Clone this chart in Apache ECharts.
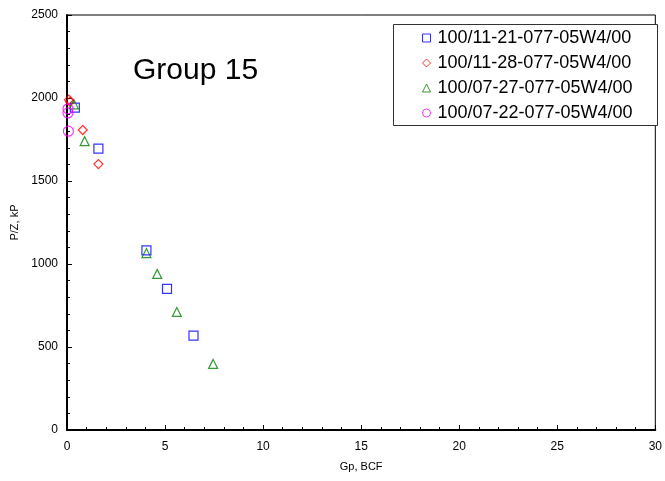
<!DOCTYPE html>
<html><head><meta charset="utf-8">
<script src="https://cdn.jsdelivr.net/npm/echarts@6/dist/echarts.min.js"></script>
<style>html,body{margin:0;padding:0;background:#fff}#c{width:665px;height:481px}</style>
</head><body><div id="c"></div>
<script>
const seriesNames = ['100/11-21-077-05W4/00','100/11-28-077-05W4/00','100/07-27-077-05W4/00','100/07-22-077-05W4/00'];
const s1121 = [[0.4,1942],[1.6,1695],[4.05,1082],[5.1,850],[6.45,568]];
const s1128 = [[0.1,1990],[0.15,1978],[0.8,1807],[1.6,1602]];
const s0727 = [[0.35,1962],[0.9,1740],[4.05,1066],[4.6,940],[5.6,711],[7.45,398]];
const s0722 = [[0.05,1935],[0.05,1910],[0.07,1800]];
const colors = ['#0000ff','#ff0000','#008000','#ff00ff'];
const symbols = ['rect','diamond','triangle','circle'];
const sizes = [9,9,9,10];
const datas = [s1121,s1128,s0727,s0722];
const FF = '"Liberation Sans", Arial, sans-serif';

const chart = echarts.init(document.getElementById('c'));
chart.setOption({
  animation:false,
  grid:{left:67,right:7,top:15,bottom:51,show:true,borderColor:'#000',borderWidth:1},
  graphic:[
    {type:'rect',left:393,top:24,shape:{width:264,height:101},style:{fill:'#fff',stroke:'#333',lineWidth:1},z:50},
    {type:'text',left:133,top:56,style:{text:'Group 15',font:'30px '+FF,fill:'#000'}}
  ],
  legend:{
    orient:'vertical',left:422,top:29,itemGap:7,itemWidth:8,itemHeight:8,itemSymbolKeepAspect:true,z:60,padding:0,
    itemStyle:{borderWidth:1},
    textStyle:{fontFamily:FF,fontSize:18,lineHeight:18,color:'#000',padding:[0,0,0,2]},
    data:seriesNames
  },
  xAxis:{
    type:'value',min:0,max:30,interval:5,
    name:'Gp, BCF',nameLocation:'middle',nameGap:31,
    nameTextStyle:{fontFamily:FF,fontSize:11,color:'#000'},
    axisLine:{onZero:false,lineStyle:{color:'#000',width:2}},
    axisTick:{inside:true,length:5,lineStyle:{color:'#000'}},
    minorTick:{show:true,splitNumber:5,length:3,lineStyle:{color:'#000'}},
    axisLabel:{fontFamily:FF,fontSize:12,color:'#000',margin:11},
    splitLine:{show:false}
  },
  yAxis:{
    type:'value',min:0,max:2500,interval:500,
    name:'P/Z, kP',nameLocation:'middle',nameGap:42,
    nameTextStyle:{fontFamily:FF,fontSize:11,color:'#000'},
    axisLine:{onZero:false,lineStyle:{color:'#000',width:2}},
    axisTick:{inside:true,length:5,lineStyle:{color:'#000'}},
    minorTick:{show:true,splitNumber:5,length:3,lineStyle:{color:'#000'}},
    axisLabel:{fontFamily:FF,fontSize:12,color:'#000',margin:9,formatter:v=>String(v)},
    splitLine:{show:false}
  },
  series: seriesNames.map((n,i)=>({
    name:n,type:'scatter',data:datas[i],symbol:symbols[i],symbolSize:sizes[i],
    itemStyle:{color:'rgba(255,255,255,0)',borderColor:colors[i],borderWidth:1.2}
  }))
});
</script></body></html>
